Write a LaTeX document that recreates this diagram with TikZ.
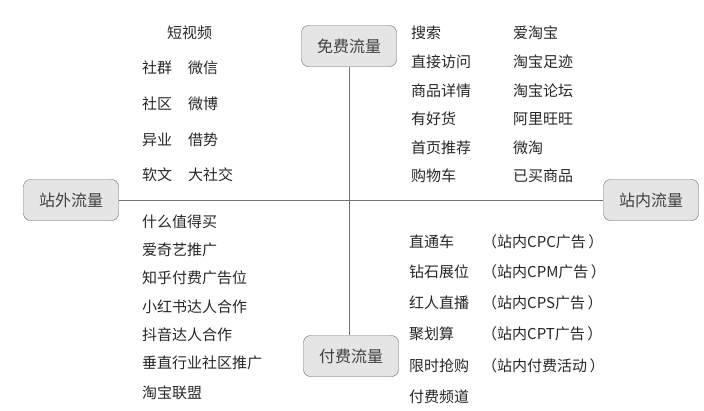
\documentclass[tikz,border=0pt]{standalone}
\usepackage{fontspec}
\setmainfont{Noto Sans CJK SC}
\begin{document}
\begin{tikzpicture}
        [x=1pt,y=-1pt,
        kind/.style={draw=black!60,fill=black!10,rounded corners=7pt,minimum width=95pt,minimum height=41pt,inner sep=0pt,font=\fontsize{16}{18}\selectfont,text=black!75},
        item/.style={anchor=west,inner sep=0pt,yshift=-3.5pt,text height=0.7em,text depth=0.3em,font=\fontsize{15}{18}\selectfont,text=black!85},
        axis/.style={draw=black!55,line width=0.8pt}]
        \useasboundingbox (0,0) rectangle (704,410);

        % the four kinds of traffic
        \node[kind] (free) at (349,46) {免费流量};
        \node[kind] (paid) at (351,356) {付费流量};
        \node[kind] (outside) at (71,200) {站外流量};
        \node[kind] (inside) at (651,200) {站内流量};

        \draw[axis] (outside) -- (inside);
        \draw[axis] (free.south) -- (free.south |- paid.north);

        % outside, free
        \node[item] (sv) at (167,33) {短视频};
        \node[item] (sq) at (142,68) {社群};
        \node[item] (wx) at (188,68) {微信};
        \node[item] (shq) at (142,104) {社区};
        \node[item] (wb) at (188,104) {微博};
        \node[item] (yy) at (142,140) {异业};
        \node[item] (js) at (188,140) {借势};
        \node[item] (rw) at (142,175) {软文};
        \node[item] (dsj) at (188,175) {大社交};

        % outside, paid
        \node[item] (smz) at (142,222) {什么值得买};
        \node[item] (aqy) at (142,250) {爱奇艺推广};
        \node[item] (zh) at (142,278) {知乎付费广告位};
        \node[item] (xhs) at (142,307) {小红书达人合作};
        \node[item] (dy) at (142,335) {抖音达人合作};
        \node[item] (czhy) at (142,363) {垂直行业社区推广};
        \node[item] (tblm) at (142,393) {淘宝联盟};

        % inside, free
        \node[item] (ss) at (411,33) {搜索};
        \node[item] (zjfw) at (411,62) {直接访问};
        \node[item] (spxq) at (411,91) {商品详情};
        \node[item] (yhh) at (411,119) {有好货};
        \node[item] (sytj) at (411,148) {首页推荐};
        \node[item] (gwc) at (411,176) {购物车};
        \node[item] (atb) at (513,33) {爱淘宝};
        \node[item] (tbzj) at (513,62) {淘宝足迹};
        \node[item] (tblt) at (513,91) {淘宝论坛};
        \node[item] (ww) at (513,119) {阿里旺旺};
        \node[item] (wt) at (513,148) {微淘};
        \node[item] (ymsp) at (513,176) {已买商品};

        % inside, paid
        \node[item] (ztc) at (409,242) {直通车};
        \node[item] (zszw) at (409,272) {钻石展位};
        \node[item] (hrzb) at (409,303) {红人直播};
        \node[item] (jhs) at (409,334) {聚划算};
        \node[item] (xsqg) at (409,366) {限时抢购};
        \node[item] (ffpd) at (409,397) {付费频道};
        \node[item] (cpc) at (482,242) {（站内CPC广告\,）};
        \node[item] (cpm) at (482,272) {（站内CPM广告\,）};
        \node[item] (cps) at (482,303) {（站内CPS广告\,）};
        \node[item] (cpt) at (482,334) {（站内CPT广告\,）};
        \node[item] (ffhd) at (482,366) {（站内付费活动\,）};
      \end{tikzpicture}
\end{document}
